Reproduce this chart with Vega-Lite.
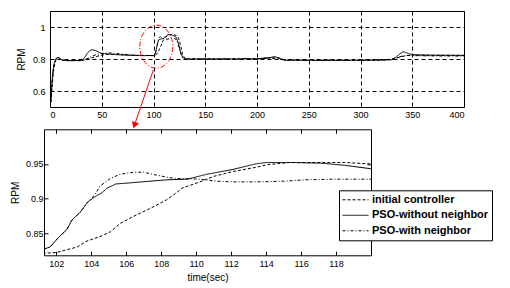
{
"$schema": "https://vega.github.io/schema/vega-lite/v6.json",
"autosize": {"type": "none"},
"padding": {"left": 44, "top": 11, "right": 466, "bottom": 277},
"background": "white",
"spacing": 118.3,
"bounds": "flush",
"resolve": {"scale": {"strokeDash": "independent"}, "legend": {"strokeDash": "independent"}},
"config": {
  "view": {"stroke": "black", "strokeWidth": 1},
  "axis": {"labelFont": "Liberation Sans", "labelFontSize": 9, "labelColor": "black", "titleFont": "Liberation Sans", "titleFontSize": 10, "titleFontWeight": "normal", "titleColor": "black", "domain": false, "tickColor": "black", "tickSize": -4, "labelPadding": 4}
},
"datasets": {
  "sim": [
{"t":0,"series":"initial controller","rpm":0.5},{"t":1,"series":"initial controller","rpm":0.53},{"t":2,"series":"initial controller","rpm":0.62},{"t":3,"series":"initial controller","rpm":0.70},{"t":4,"series":"initial controller","rpm":0.75},{"t":5,"series":"initial controller","rpm":0.78},{"t":6,"series":"initial controller","rpm":0.797},{"t":7,"series":"initial controller","rpm":0.806},{"t":8,"series":"initial controller","rpm":0.808},{"t":10,"series":"initial controller","rpm":0.801},{"t":12,"series":"initial controller","rpm":0.793},{"t":15,"series":"initial controller","rpm":0.79},{"t":30,"series":"initial controller","rpm":0.79},{"t":33,"series":"initial controller","rpm":0.793},{"t":36,"series":"initial controller","rpm":0.798},{"t":40,"series":"initial controller","rpm":0.806},{"t":44,"series":"initial controller","rpm":0.814},{"t":48,"series":"initial controller","rpm":0.821},{"t":52,"series":"initial controller","rpm":0.826},{"t":56,"series":"initial controller","rpm":0.829},{"t":60,"series":"initial controller","rpm":0.83},{"t":65,"series":"initial controller","rpm":0.829},{"t":70,"series":"initial controller","rpm":0.827},{"t":75,"series":"initial controller","rpm":0.825},{"t":80,"series":"initial controller","rpm":0.823},{"t":90,"series":"initial controller","rpm":0.822},{"t":100,"series":"initial controller","rpm":0.821},{"t":101.3,"series":"initial controller","rpm":0.821},{"t":102,"series":"initial controller","rpm":0.822},{"t":102.6,"series":"initial controller","rpm":0.826},{"t":103.2,"series":"initial controller","rpm":0.83},{"t":103.7,"series":"initial controller","rpm":0.838},{"t":104.5,"series":"initial controller","rpm":0.845},{"t":105.1,"series":"initial controller","rpm":0.852},{"t":105.65,"series":"initial controller","rpm":0.864},{"t":106.4,"series":"initial controller","rpm":0.874},{"t":107.4,"series":"initial controller","rpm":0.886},{"t":108.3,"series":"initial controller","rpm":0.898},{"t":108.7,"series":"initial controller","rpm":0.905},{"t":109.2,"series":"initial controller","rpm":0.915},{"t":110.2,"series":"initial controller","rpm":0.924},{"t":111,"series":"initial controller","rpm":0.932},{"t":112.1,"series":"initial controller","rpm":0.939},{"t":113.4,"series":"initial controller","rpm":0.945},{"t":114.1,"series":"initial controller","rpm":0.949},{"t":115.3,"series":"initial controller","rpm":0.952},{"t":117.2,"series":"initial controller","rpm":0.952},{"t":118.5,"series":"initial controller","rpm":0.952},{"t":120,"series":"initial controller","rpm":0.95},{"t":122,"series":"initial controller","rpm":0.948},{"t":124,"series":"initial controller","rpm":0.935},{"t":126,"series":"initial controller","rpm":0.89},{"t":128,"series":"initial controller","rpm":0.835},{"t":130,"series":"initial controller","rpm":0.806},{"t":132,"series":"initial controller","rpm":0.8},{"t":200,"series":"initial controller","rpm":0.801},{"t":205,"series":"initial controller","rpm":0.805},{"t":210,"series":"initial controller","rpm":0.806},{"t":215,"series":"initial controller","rpm":0.805},{"t":220,"series":"initial controller","rpm":0.807},{"t":224,"series":"initial controller","rpm":0.8},{"t":228,"series":"initial controller","rpm":0.793},{"t":260,"series":"initial controller","rpm":0.792},{"t":300,"series":"initial controller","rpm":0.792},{"t":320,"series":"initial controller","rpm":0.793},{"t":325,"series":"initial controller","rpm":0.795},{"t":330,"series":"initial controller","rpm":0.8},{"t":335,"series":"initial controller","rpm":0.807},{"t":340,"series":"initial controller","rpm":0.815},{"t":345,"series":"initial controller","rpm":0.822},{"t":350,"series":"initial controller","rpm":0.824},{"t":360,"series":"initial controller","rpm":0.823},{"t":400,"series":"initial controller","rpm":0.822},
{"t":0,"series":"PSO-without neighbor","rpm":0.5},{"t":1,"series":"PSO-without neighbor","rpm":0.56},{"t":2,"series":"PSO-without neighbor","rpm":0.66},{"t":3,"series":"PSO-without neighbor","rpm":0.73},{"t":4,"series":"PSO-without neighbor","rpm":0.77},{"t":5,"series":"PSO-without neighbor","rpm":0.79},{"t":6,"series":"PSO-without neighbor","rpm":0.802},{"t":7,"series":"PSO-without neighbor","rpm":0.809},{"t":8,"series":"PSO-without neighbor","rpm":0.81},{"t":10,"series":"PSO-without neighbor","rpm":0.801},{"t":12,"series":"PSO-without neighbor","rpm":0.793},{"t":15,"series":"PSO-without neighbor","rpm":0.79},{"t":30,"series":"PSO-without neighbor","rpm":0.791},{"t":33,"series":"PSO-without neighbor","rpm":0.805},{"t":36,"series":"PSO-without neighbor","rpm":0.835},{"t":39,"series":"PSO-without neighbor","rpm":0.855},{"t":41,"series":"PSO-without neighbor","rpm":0.858},{"t":44,"series":"PSO-without neighbor","rpm":0.853},{"t":47,"series":"PSO-without neighbor","rpm":0.843},{"t":50,"series":"PSO-without neighbor","rpm":0.836},{"t":55,"series":"PSO-without neighbor","rpm":0.832},{"t":60,"series":"PSO-without neighbor","rpm":0.829},{"t":70,"series":"PSO-without neighbor","rpm":0.825},{"t":80,"series":"PSO-without neighbor","rpm":0.822},{"t":90,"series":"PSO-without neighbor","rpm":0.821},{"t":100,"series":"PSO-without neighbor","rpm":0.822},{"t":101.3,"series":"PSO-without neighbor","rpm":0.827},{"t":101.65,"series":"PSO-without neighbor","rpm":0.83},{"t":102.1,"series":"PSO-without neighbor","rpm":0.843},{"t":102.6,"series":"PSO-without neighbor","rpm":0.855},{"t":102.9,"series":"PSO-without neighbor","rpm":0.869},{"t":103.4,"series":"PSO-without neighbor","rpm":0.881},{"t":103.8,"series":"PSO-without neighbor","rpm":0.895},{"t":104.3,"series":"PSO-without neighbor","rpm":0.904},{"t":104.6,"series":"PSO-without neighbor","rpm":0.908},{"t":104.9,"series":"PSO-without neighbor","rpm":0.915},{"t":105.4,"series":"PSO-without neighbor","rpm":0.921},{"t":106.4,"series":"PSO-without neighbor","rpm":0.923},{"t":108.3,"series":"PSO-without neighbor","rpm":0.927},{"t":109.5,"series":"PSO-without neighbor","rpm":0.928},{"t":110.6,"series":"PSO-without neighbor","rpm":0.935},{"t":112.1,"series":"PSO-without neighbor","rpm":0.942},{"t":113.4,"series":"PSO-without neighbor","rpm":0.95},{"t":114,"series":"PSO-without neighbor","rpm":0.952},{"t":115.5,"series":"PSO-without neighbor","rpm":0.952},{"t":117.2,"series":"PSO-without neighbor","rpm":0.951},{"t":118.5,"series":"PSO-without neighbor","rpm":0.948},{"t":120,"series":"PSO-without neighbor","rpm":0.943},{"t":122,"series":"PSO-without neighbor","rpm":0.935},{"t":124,"series":"PSO-without neighbor","rpm":0.9},{"t":126,"series":"PSO-without neighbor","rpm":0.845},{"t":128,"series":"PSO-without neighbor","rpm":0.812},{"t":130,"series":"PSO-without neighbor","rpm":0.8},{"t":185,"series":"PSO-without neighbor","rpm":0.8},{"t":189,"series":"PSO-without neighbor","rpm":0.804},{"t":193,"series":"PSO-without neighbor","rpm":0.8},{"t":205,"series":"PSO-without neighbor","rpm":0.802},{"t":210,"series":"PSO-without neighbor","rpm":0.806},{"t":217,"series":"PSO-without neighbor","rpm":0.815},{"t":222,"series":"PSO-without neighbor","rpm":0.805},{"t":226,"series":"PSO-without neighbor","rpm":0.793},{"t":260,"series":"PSO-without neighbor","rpm":0.791},{"t":300,"series":"PSO-without neighbor","rpm":0.792},{"t":330,"series":"PSO-without neighbor","rpm":0.795},{"t":334,"series":"PSO-without neighbor","rpm":0.81},{"t":338,"series":"PSO-without neighbor","rpm":0.832},{"t":341,"series":"PSO-without neighbor","rpm":0.845},{"t":344,"series":"PSO-without neighbor","rpm":0.84},{"t":348,"series":"PSO-without neighbor","rpm":0.83},{"t":355,"series":"PSO-without neighbor","rpm":0.826},{"t":370,"series":"PSO-without neighbor","rpm":0.824},{"t":400,"series":"PSO-without neighbor","rpm":0.823},
{"t":0,"series":"PSO-with neighbor","rpm":0.5},{"t":1,"series":"PSO-with neighbor","rpm":0.56},{"t":2,"series":"PSO-with neighbor","rpm":0.66},{"t":3,"series":"PSO-with neighbor","rpm":0.73},{"t":4,"series":"PSO-with neighbor","rpm":0.77},{"t":5,"series":"PSO-with neighbor","rpm":0.79},{"t":6,"series":"PSO-with neighbor","rpm":0.802},{"t":7,"series":"PSO-with neighbor","rpm":0.809},{"t":8,"series":"PSO-with neighbor","rpm":0.81},{"t":10,"series":"PSO-with neighbor","rpm":0.801},{"t":12,"series":"PSO-with neighbor","rpm":0.793},{"t":15,"series":"PSO-with neighbor","rpm":0.79},{"t":30,"series":"PSO-with neighbor","rpm":0.79},{"t":33,"series":"PSO-with neighbor","rpm":0.795},{"t":37,"series":"PSO-with neighbor","rpm":0.805},{"t":41,"series":"PSO-with neighbor","rpm":0.818},{"t":45,"series":"PSO-with neighbor","rpm":0.828},{"t":50,"series":"PSO-with neighbor","rpm":0.834},{"t":55,"series":"PSO-with neighbor","rpm":0.838},{"t":60,"series":"PSO-with neighbor","rpm":0.837},{"t":65,"series":"PSO-with neighbor","rpm":0.834},{"t":70,"series":"PSO-with neighbor","rpm":0.83},{"t":80,"series":"PSO-with neighbor","rpm":0.825},{"t":90,"series":"PSO-with neighbor","rpm":0.822},{"t":100,"series":"PSO-with neighbor","rpm":0.822},{"t":101.3,"series":"PSO-with neighbor","rpm":0.827},{"t":101.65,"series":"PSO-with neighbor","rpm":0.83},{"t":102.1,"series":"PSO-with neighbor","rpm":0.843},{"t":102.6,"series":"PSO-with neighbor","rpm":0.855},{"t":102.9,"series":"PSO-with neighbor","rpm":0.869},{"t":103.4,"series":"PSO-with neighbor","rpm":0.881},{"t":103.8,"series":"PSO-with neighbor","rpm":0.895},{"t":104.2,"series":"PSO-with neighbor","rpm":0.905},{"t":104.5,"series":"PSO-with neighbor","rpm":0.918},{"t":105.1,"series":"PSO-with neighbor","rpm":0.929},{"t":105.65,"series":"PSO-with neighbor","rpm":0.935},{"t":106.4,"series":"PSO-with neighbor","rpm":0.938},{"t":107,"series":"PSO-with neighbor","rpm":0.938},{"t":107.7,"series":"PSO-with neighbor","rpm":0.934},{"t":108.5,"series":"PSO-with neighbor","rpm":0.93},{"t":109,"series":"PSO-with neighbor","rpm":0.929},{"t":110.2,"series":"PSO-with neighbor","rpm":0.928},{"t":111.2,"series":"PSO-with neighbor","rpm":0.925},{"t":112.1,"series":"PSO-with neighbor","rpm":0.924},{"t":113.4,"series":"PSO-with neighbor","rpm":0.924},{"t":115,"series":"PSO-with neighbor","rpm":0.925},{"t":116.2,"series":"PSO-with neighbor","rpm":0.927},{"t":117.9,"series":"PSO-with neighbor","rpm":0.928},{"t":120,"series":"PSO-with neighbor","rpm":0.928},{"t":122,"series":"PSO-with neighbor","rpm":0.922},{"t":124,"series":"PSO-with neighbor","rpm":0.89},{"t":126,"series":"PSO-with neighbor","rpm":0.84},{"t":128,"series":"PSO-with neighbor","rpm":0.808},{"t":130,"series":"PSO-with neighbor","rpm":0.8},{"t":200,"series":"PSO-with neighbor","rpm":0.8},{"t":205,"series":"PSO-with neighbor","rpm":0.806},{"t":212,"series":"PSO-with neighbor","rpm":0.808},{"t":220,"series":"PSO-with neighbor","rpm":0.803},{"t":226,"series":"PSO-with neighbor","rpm":0.793},{"t":260,"series":"PSO-with neighbor","rpm":0.792},{"t":300,"series":"PSO-with neighbor","rpm":0.792},{"t":330,"series":"PSO-with neighbor","rpm":0.796},{"t":335,"series":"PSO-with neighbor","rpm":0.808},{"t":340,"series":"PSO-with neighbor","rpm":0.818},{"t":345,"series":"PSO-with neighbor","rpm":0.822},{"t":350,"series":"PSO-with neighbor","rpm":0.821},{"t":370,"series":"PSO-with neighbor","rpm":0.819},{"t":400,"series":"PSO-with neighbor","rpm":0.818}
  ]
},
"vconcat": [
  {
    "spacing": 0,
    "bounds": "flush",
    "hconcat": [
      {"width": 6, "height": 96, "view": {"stroke": null}, "data": {"values": [{}]}, "mark": {"type": "point", "opacity": 0}},
      {
        "width": 414, "height": 96,
        "layer": [
          {
            "data": {"name": "sim"},
            "mark": {"type": "line", "clip": true, "strokeWidth": 1, "color": "black"},
            "encoding": {
              "x": {"field": "t", "type": "quantitative", "scale": {"domain": [0, 400], "nice": false, "zero": false},
                    "axis": {"values": [0, 50, 100, 150, 200, 250, 300, 350, 400], "grid": true, "gridColor": "black", "gridDash": [4, 3], "gridOpacity": 1, "tickSize": 0, "labelPadding": 3, "title": null}},
              "y": {"field": "rpm", "type": "quantitative", "scale": {"domain": [0.5, 1.1], "nice": false, "zero": false},
                    "axis": {"values": [0.6, 0.8, 1.0], "format": "~g", "grid": true, "gridColor": "black", "gridDash": [4, 3], "gridOpacity": 1, "tickSize": 0, "labelPadding": 5, "title": "RPM", "titlePadding": 6}},
              "strokeDash": {"field": "series", "type": "nominal", "legend": null,
                    "scale": {"domain": ["initial controller", "PSO-without neighbor", "PSO-with neighbor"], "range": [[3, 2], [1, 0], [3, 2, 1, 2]]}}
            }
          },
          {
            "data": {"values": [{"t": 102.7, "rpm": 0.877}]},
            "mark": {"type": "point", "shape": "M-0.767,0A0.767,1,0,1,1,0.767,0A0.767,1,0,1,1,-0.767,0Z", "size": 1849, "filled": false, "stroke": "red", "strokeWidth": 1, "strokeDash": [5, 2, 1, 2], "opacity": 1},
            "encoding": {
              "x": {"field": "t", "type": "quantitative", "scale": {"domain": [0, 400], "nice": false, "zero": false}},
              "y": {"field": "rpm", "type": "quantitative", "scale": {"domain": [0.5, 1.1], "nice": false, "zero": false}}
            }
          },
          {
            "data": {"values": [{"t": 99.8, "rpm": 0.731, "t2": 81.6, "rpm2": 0.386}]},
            "mark": {"type": "rule", "color": "red", "strokeWidth": 1},
            "encoding": {
              "x": {"field": "t", "type": "quantitative", "scale": {"domain": [0, 400], "nice": false, "zero": false}},
              "y": {"field": "rpm", "type": "quantitative", "scale": {"domain": [0.5, 1.1], "nice": false, "zero": false}},
              "x2": {"field": "t2"},
              "y2": {"field": "rpm2"}
            }
          },
          {
            "data": {"values": [{"t": 81.6, "rpm": 0.386}]},
            "mark": {"type": "point", "shape": "triangle-down", "filled": true, "color": "red", "size": 55, "angle": 19, "opacity": 1},
            "encoding": {
              "x": {"field": "t", "type": "quantitative", "scale": {"domain": [0, 400], "nice": false, "zero": false}},
              "y": {"field": "rpm", "type": "quantitative", "scale": {"domain": [0.5, 1.1], "nice": false, "zero": false}}
            }
          }
        ]
      }
    ]
  },
  {
    "width": 327, "height": 126,
    "data": {"name": "sim"},
    "layer": [
      {
        "mark": {"type": "line", "clip": true, "strokeWidth": 1, "color": "black"},
        "encoding": {
          "x": {"field": "t", "type": "quantitative", "scale": {"domain": [101.3, 120], "nice": false, "zero": false},
                "axis": {"orient": "bottom", "values": [102, 104, 106, 108, 110, 112, 114, 116, 118], "grid": false, "labelPadding": 8, "title": "time(sec)", "titlePadding": 4}},
          "y": {"field": "rpm", "type": "quantitative", "scale": {"domain": [0.818, 1.0], "nice": false, "zero": false},
                "axis": {"orient": "left", "values": [0.85, 0.9, 0.95], "format": "~g", "grid": false, "labelPadding": 5, "title": "RPM", "titlePadding": 5}},
          "strokeDash": {"field": "series", "type": "nominal", "title": null,
                "scale": {"domain": ["initial controller", "PSO-without neighbor", "PSO-with neighbor"], "range": [[3, 2], [1, 0], [3, 2, 1, 2]]},
                "legend": {"orient": "none", "legendX": 295, "legendY": 61, "strokeColor": "black", "fillColor": "white", "padding": 3, "symbolType": "stroke", "symbolSize": 676, "symbolStrokeWidth": 1, "symbolStrokeColor": "black", "labelFont": "Liberation Sans", "labelFontWeight": "bold", "labelFontSize": 11, "labelColor": "black", "labelOffset": 3, "clipHeight": 13, "rowPadding": 2.5, "cornerRadius": 0}}
        }
      },
      {
        "mark": {"type": "line", "clip": true, "opacity": 0},
        "encoding": {
          "x": {"field": "t", "type": "quantitative", "scale": {"domain": [101.3, 120], "nice": false, "zero": false},
                "axis": {"orient": "top", "values": [102, 104, 106, 108, 110, 112, 114, 116, 118], "labels": false, "grid": false, "title": null}},
          "y": {"field": "rpm", "type": "quantitative", "scale": {"domain": [0.818, 1.0], "nice": false, "zero": false},
                "axis": {"orient": "right", "values": [0.85, 0.9, 0.95], "labels": false, "grid": false, "title": null}}
        }
      }
    ],
    "resolve": {"axis": {"x": "independent", "y": "independent"}}
  }
]
}
